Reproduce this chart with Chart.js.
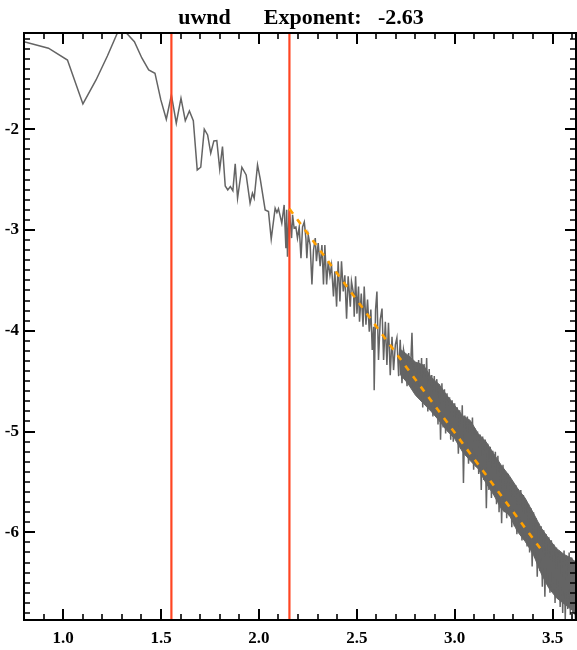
<!DOCTYPE html>
<html>
<head>
<meta charset="utf-8">
<title>uwnd spectrum</title>
<script src="https://cdn.jsdelivr.net/npm/chart.js@4.4.0/dist/chart.umd.min.js"></script>
<style>
  html, body { margin: 0; padding: 0; background: #fff; }
  #wrap { width: 577px; height: 650px; }
</style>
</head>
<body>
<div id="wrap"><canvas id="specChart" width="577" height="650"></canvas></div>
<script>
// タイトルと軸
const chartTitle = 'uwnd      Exponent:   -2.63';
const xRange = [0.8, 3.62];
const yRange = [-6.87, -1.045];
const xTicks = [1.0, 1.5, 2.0, 2.5, 3.0, 3.5];
const yTicks = [-6, -5, -4, -3, -2];

// スペクトル (log10 周波数, log10 パワー)
const specX = [
  0.800, 0.925, 1.022, 1.101, 1.168, 1.226, 1.277, 1.323, 1.364, 1.402,
  1.437, 1.469, 1.499, 1.527, 1.553, 1.578, 1.602, 1.624, 1.645, 1.665,
  1.685, 1.703, 1.721, 1.738, 1.754, 1.770, 1.785, 1.800, 1.814, 1.828,
  1.841, 1.854, 1.867, 1.879, 1.891, 1.913, 1.935, 1.955, 1.967, 1.976,
  1.993, 2.007, 2.032, 2.049, 2.063, 2.083, 2.092, 2.100, 2.117, 2.129,
  2.138, 2.142, 2.146, 2.155, 2.167, 2.172, 2.180, 2.189, 2.197, 2.206,
  2.215, 2.223, 2.232, 2.240, 2.245, 2.252, 2.262, 2.271, 2.279, 2.288,
  2.294, 2.303, 2.313, 2.322, 2.330, 2.337, 2.346, 2.354, 2.363, 2.371,
  2.381, 2.388, 2.397, 2.405, 2.414, 2.422, 2.431, 2.439, 2.448, 2.456,
  2.467, 2.473, 2.484, 2.487, 2.494, 2.501, 2.509, 2.514, 2.523, 2.532,
  2.538, 2.547, 2.555, 2.564, 2.572, 2.579, 2.586, 2.589, 2.596, 2.603,
  2.611, 2.620, 2.629, 2.637, 2.646, 2.654, 2.662, 2.671, 2.680, 2.688,
  2.697, 2.705, 2.714, 2.722, 2.731, 2.739, 2.748, 2.757, 2.765, 2.773,
  2.782, 2.790, 2.799, 2.808, 2.816, 2.825, 2.831, 2.837, 2.844, 2.850,
  2.857, 2.863, 2.870, 2.876, 2.883, 2.889, 2.896, 2.902, 2.909, 2.915,
  2.922, 2.928, 2.935, 2.941, 2.948, 2.954, 2.961, 2.967, 2.974, 2.980,
  2.987, 2.993, 3.000, 3.006, 3.013, 3.019, 3.026, 3.032, 3.039, 3.045,
  3.052, 3.058, 3.065, 3.071, 3.078, 3.084, 3.091, 3.097, 3.104, 3.110,
  3.117, 3.123, 3.130, 3.136, 3.143, 3.149, 3.156, 3.162, 3.169, 3.175,
  3.182, 3.188, 3.195, 3.201, 3.208, 3.214, 3.221, 3.227, 3.234, 3.240,
  3.247, 3.253, 3.260, 3.266, 3.273, 3.279, 3.286, 3.292, 3.299, 3.305,
  3.312, 3.318, 3.325, 3.331, 3.338, 3.344, 3.351, 3.357, 3.364, 3.370,
  3.377, 3.383, 3.390, 3.396, 3.403, 3.409, 3.416, 3.422, 3.429, 3.435,
  3.442, 3.448, 3.455, 3.461, 3.468, 3.474, 3.481, 3.487, 3.494, 3.500,
  3.507, 3.513, 3.520, 3.526, 3.533, 3.539, 3.546, 3.552, 3.559, 3.565,
  3.572, 3.578, 3.585, 3.591, 3.598, 3.604, 3.611, 3.617, 3.620
];
const specY = [
  -1.131, -1.196, -1.313, -1.749, -1.511, -1.273, -1.045, -1.045, -1.131, -1.293,
  -1.412, -1.444, -1.709, -1.901, -1.660, -1.940, -1.692, -1.915, -1.818, -1.915,
  -2.404, -2.377, -2.000, -2.057, -2.238, -2.116, -2.113, -2.397, -2.173, -2.563,
  -2.602, -2.569, -2.609, -2.344, -2.685, -2.377, -2.453, -2.734, -2.635, -2.685,
  -2.354, -2.496, -2.801, -2.817, -3.091, -2.784, -2.827, -2.788, -2.933, -2.751,
  -3.181, -2.800, -3.264, -2.790, -3.08, -2.85, -2.98, -2.97, -3.08, -2.97,
  -3.28, -2.97, -2.92, -3.08, -3.28, -3.05, -3.15, -3.54, -3.20, -3.08,
  -3.31, -3.13, -3.36, -3.15, -3.54, -3.15, -3.54, -3.31, -3.45, -3.35,
  -3.66, -3.41, -3.76, -3.31, -3.71, -3.31, -3.61, -3.45, -3.88, -3.46,
  -3.76, -3.51, -3.64, -3.86, -3.46, -3.83, -3.56, -3.91, -3.63, -3.96,
  -3.56, -3.94, -3.69, -4.01, -3.79, -4.19, -3.96, -4.59, -3.79, -3.61,
  -4.29, -3.89, -3.78, -4.29, -3.91, -4.34, -3.92, -4.44, -4.06, -4.39,
  -4.14, -4.07, -4.45, -4.09, -4.52, -4.19, -4.29, -4.55, -4.22, -4.45,
  -4.02, -4.59, -4.32, -4.60, -4.29, -4.65, -4.27, -4.76, -4.33, -4.70,
  -4.27, -4.80, -4.38, -4.76, -4.44, -4.85, -4.45, -4.82, -4.48, -4.93,
  -4.53, -5.08, -4.52, -4.96, -4.58, -5.02, -4.62, -5.00, -4.66, -5.08,
  -4.69, -5.10, -4.72, -5.06, -4.76, -5.22, -4.79, -5.16, -4.74, -5.51,
  -4.84, -5.24, -4.85, -5.32, -4.90, -5.28, -4.86, -5.38, -4.97, -5.35,
  -5.00, -5.42, -5.03, -5.58, -5.05, -5.48, -5.08, -5.76, -5.12, -5.58,
  -5.15, -5.66, -5.19, -5.62, -5.20, -5.72, -5.24, -5.80, -5.34, -5.91,
  -5.33, -5.80, -5.40, -5.86, -5.42, -5.84, -5.47, -5.95, -5.50, -5.94,
  -5.53, -6.02, -5.57, -6.00, -5.58, -6.08, -5.63, -6.06, -5.68, -6.14,
  -5.72, -6.20, -5.76, -6.34, -5.80, -6.25, -5.86, -6.44, -5.91, -6.38,
  -5.94, -6.54, -5.98, -6.64, -6.02, -6.52, -6.05, -6.60, -6.08, -6.58,
  -6.12, -6.70, -6.15, -6.66, -6.18, -6.74, -6.22, -6.80, -6.18, -6.87,
  -6.24, -6.76, -6.20, -6.82, -6.25, -6.80, -6.28, -6.86, -6.34
];

// 高周波側で線が重なって塗りつぶされて見える帯の上端・下端
const bandX      = [2.72, 2.76, 2.80, 2.84, 2.88, 2.92, 2.96, 3.00, 3.04, 3.08, 3.12, 3.16,
                    3.20, 3.24, 3.28, 3.32, 3.36, 3.40, 3.44, 3.48, 3.52, 3.56, 3.60, 3.62];
const bandTop    = [-4.18, -4.24, -4.31, -4.34, -4.46, -4.53, -4.64, -4.74, -4.84, -4.89, -5.02, -5.10,
                    -5.22, -5.34, -5.44, -5.56, -5.66, -5.80, -5.95, -6.06, -6.16, -6.22, -6.26, -6.32];
const bandBottom = [-4.43, -4.52, -4.64, -4.72, -4.80, -4.89, -4.99, -5.07, -5.20, -5.29, -5.37, -5.51,
                    -5.63, -5.77, -5.83, -5.99, -6.09, -6.21, -6.40, -6.55, -6.65, -6.71, -6.77, -6.83];

// フィット範囲の境界 (赤線) とフィット直線
const cutX = [1.553, 2.156];
const fitX = [2.156, 3.447];
const fitY = [-2.79, -6.185];

const serif = '"Liberation Serif", "DejaVu Serif", serif';
const specColor = '#646464';

// 枠と内向きの目盛り (IDL 風)
const frameTicks = {
  id: 'frameTicks',
  afterDatasetsDraw(chart) {
    const { ctx, chartArea: a, scales: { x, y } } = chart;
    ctx.save();
    ctx.strokeStyle = '#000';
    ctx.lineWidth = 2;
    ctx.strokeRect(a.left, a.top, a.right - a.left, a.bottom - a.top);

    for (let i = 8; i <= 36; i++) {
      const px = Math.round(x.getPixelForValue(i / 10));
      const len = i % 5 === 0 ? 11 : 6;
      ctx.lineWidth = i % 5 === 0 ? 2 : 1.6;
      ctx.beginPath();
      ctx.moveTo(px, a.bottom); ctx.lineTo(px, a.bottom - len);
      ctx.moveTo(px, a.top); ctx.lineTo(px, a.top + len);
      ctx.stroke();
    }
    for (let i = -68; i <= -11; i++) {
      const py = Math.round(y.getPixelForValue(i / 10));
      const len = i % 10 === 0 ? 11 : 6;
      ctx.lineWidth = i % 10 === 0 ? 2 : 1.6;
      ctx.beginPath();
      ctx.moveTo(a.left, py); ctx.lineTo(a.left + len, py);
      ctx.moveTo(a.right, py); ctx.lineTo(a.right - len, py);
      ctx.stroke();
    }
    ctx.restore();
  },
  afterDraw(chart) {
    const { ctx, chartArea: a } = chart;
    ctx.save();
    ctx.fillStyle = '#000';
    ctx.font = 'bold 22px ' + serif;
    ctx.textAlign = 'center';
    ctx.textBaseline = 'alphabetic';
    ctx.fillText(chartTitle, (a.left + a.right) / 2 + 1, 24);
    ctx.restore();
  }
};

const toPoints = (xs, ys) => xs.map((v, i) => ({ x: v, y: ys[i] }));

const datasets = [
  {
    data: toPoints(fitX, fitY),
    borderColor: '#ffa000',
    borderWidth: 2.6,
    borderDash: [6, 7],
    order: 0
  },
  ...cutX.map(c => ({
    data: [{ x: c, y: yRange[0] }, { x: c, y: yRange[1] }],
    borderColor: '#ff4522',
    borderWidth: 2.2,
    order: 1
  })),
  {
    data: toPoints(specX, specY),
    borderColor: specColor,
    borderWidth: 1.5,
    order: 2
  },
  {
    data: toPoints(bandX, bandTop),
    borderColor: specColor,
    borderWidth: 1,
    fill: false,
    order: 3
  },
  {
    data: toPoints(bandX, bandBottom),
    borderColor: specColor,
    backgroundColor: specColor,
    borderWidth: 1,
    fill: 4,
    order: 3
  }
];

new Chart(document.getElementById('specChart'), {
  type: 'line',
  data: { datasets },
  options: {
    responsive: false,
    animation: false,
    devicePixelRatio: 1,
    layout: { padding: { top: 33, right: 1, left: 0, bottom: 0 } },
    elements: { point: { radius: 0 }, line: { tension: 0 } },
    plugins: {
      legend: { display: false },
      tooltip: { enabled: false }
    },
    scales: {
      x: {
        type: 'linear',
        min: xRange[0],
        max: xRange[1],
        grid: { display: false, drawTicks: false, tickLength: 0 },
        border: { display: false },
        afterBuildTicks: s => { s.ticks = xTicks.map(v => ({ value: v })); },
        afterFit: s => { s.height = 30; },
        ticks: {
          padding: 8,
          maxRotation: 0,
          color: '#000',
          font: { family: serif, size: 17, weight: 'bold' },
          callback: v => v.toFixed(1)
        }
      },
      y: {
        type: 'linear',
        min: yRange[0],
        max: yRange[1],
        grid: { display: false, drawTicks: false, tickLength: 0 },
        border: { display: false },
        afterBuildTicks: s => { s.ticks = yTicks.map(v => ({ value: v })); },
        afterFit: s => { s.width = 24; },
        ticks: {
          padding: 5,
          color: '#000',
          font: { family: serif, size: 17, weight: 'bold' },
          callback: v => String(v)
        }
      }
    }
  },
  plugins: [frameTicks]
});
</script>
</body>
</html>
